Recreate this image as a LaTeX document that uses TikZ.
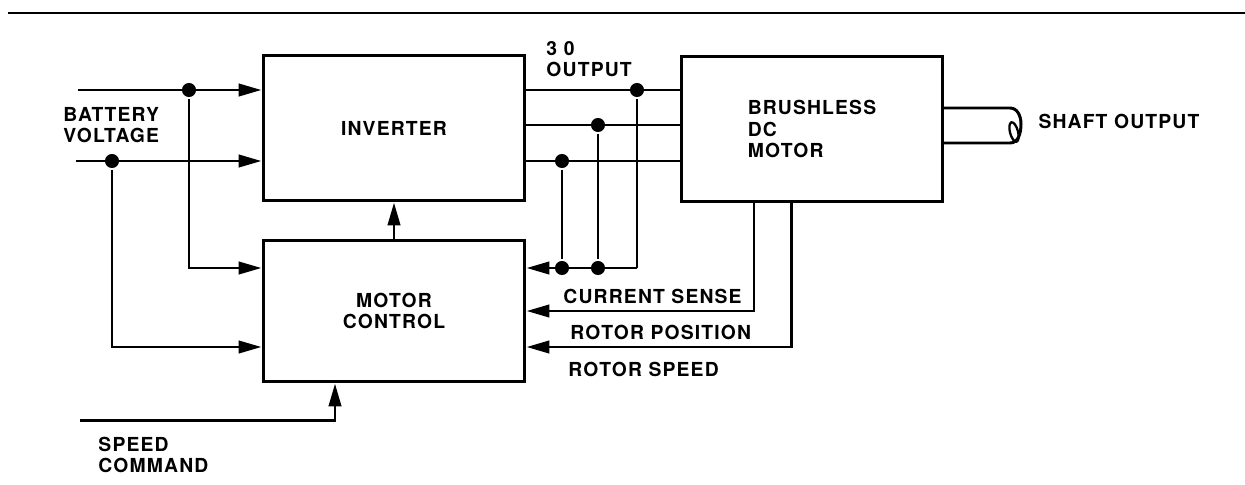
\documentclass[tikz,border=0pt]{standalone}
\usepackage{fontspec}
\setmainfont{TeX Gyre Heros}[LetterSpace=6.0]
\usetikzlibrary{arrows.meta}
\begin{document}
\begin{tikzpicture}[x=0.02cm, y=-0.02cm, line width=1.7pt,
        >={Triangle[length=13pt, width=7pt]},
        block/.style={draw, minimum width=5.24cm, minimum height=2.92cm, align=center,
            font=\bfseries\fontsize{11}{12}\selectfont},
        lbl/.style={anchor=west, align=left, inner sep=0pt, font=\bfseries\fontsize{11}{12}\selectfont},
        dot/.style={circle, fill, inner sep=0pt, minimum size=8pt}]
        \useasboundingbox (0, 0) rectangle (1245, 484);
        \draw (8, 13) -- (1245, 13);
        \node[block] (inv) at (394, 128) {INVERTER};
        \node[block, minimum height=2.84cm] (ctrl) at (394, 311) {MOTOR\\CONTROL};
        \node[block, align=left, minimum width=5.22cm] (motor) at (812, 129) {BRUSHLESS\\DC\\MOTOR};
        \node[lbl] (batlbl) at (62, 125) {BATTERY\\VOLTAGE};
        \node[lbl] (outlbl) at (545, 59) {3 0\\OUTPUT};
        \node[lbl] (shlbl) at (1037, 121) {SHAFT OUTPUT};
        \node[lbl] (cslbl) at (562, 296) {CURRENT SENSE};
        \node[lbl] (rplbl) at (569, 332) {ROTOR POSITION};
        \node[lbl] (rslbl) at (567, 369) {ROTOR SPEED};
        \node[lbl] (sclbl) at (97, 455) {SPEED\\COMMAND};
        \coordinate (bat1) at (78, 90);
        \coordinate (bat2) at (76, 161);
        \node[dot] (d1) at (189, 90) {};
        \node[dot] (d2) at (112, 161) {};
        \coordinate (c1) at (189, 268);
        \coordinate (c2) at (112, 347);
        \draw[->] (bat1) -- (inv.west |- bat1);
        \draw[->] (bat2) -- (inv.west |- bat2);
        \draw[->] (d1) -- (c1) -- (ctrl.west |- c1);
        \draw[->] (d2) -- (c2) -- (ctrl.west |- c2);
        \draw[->] (ctrl.north) -- (inv.south);
        \node[dot] (p1) at (637, 90) {};
        \node[dot] (p2) at (598, 125) {};
        \node[dot] (p3) at (562, 161) {};
        \coordinate (fb) at (637, 268);
        \node[dot] (q2) at (p2 |- fb) {};
        \node[dot] (q3) at (p3 |- fb) {};
        \draw (inv.east |- p1) -- (motor.west |- p1);
        \draw (inv.east |- p2) -- (motor.west |- p2);
        \draw (inv.east |- p3) -- (motor.west |- p3);
        \draw (p1) -- (fb);
        \draw (p2) -- (q2);
        \draw (p3) -- (q3);
        \draw[->] (fb) -- (ctrl.east |- fb);
        \coordinate (cs) at (754, 311);
        \coordinate (rp) at (791, 347);
        \draw[->] (motor.south -| cs) -- (cs) -- (ctrl.east |- cs);
        \draw[->] (motor.south -| rp) -- (rp) -- (ctrl.east |- rp);
        \coordinate (sc) at (80, 420);
        \coordinate (sck) at (335, 420);
        \draw[->] (sc) -- (sck) -- (ctrl.south -| sck);
        \coordinate (sh1) at (1010, 108);
        \coordinate (sh2) at (1010, 143);
        \draw (motor.east |- sh1) -- (sh1) to[out=0, in=90] (1021, 124) to[out=-90, in=0] (sh2) -- (motor.east |- sh2);
        \draw[line width=1.3pt, rotate around={15:(1014, 132)}] (1014, 132) ellipse [x radius=4, y radius=10];
\end{tikzpicture}
\end{document}
